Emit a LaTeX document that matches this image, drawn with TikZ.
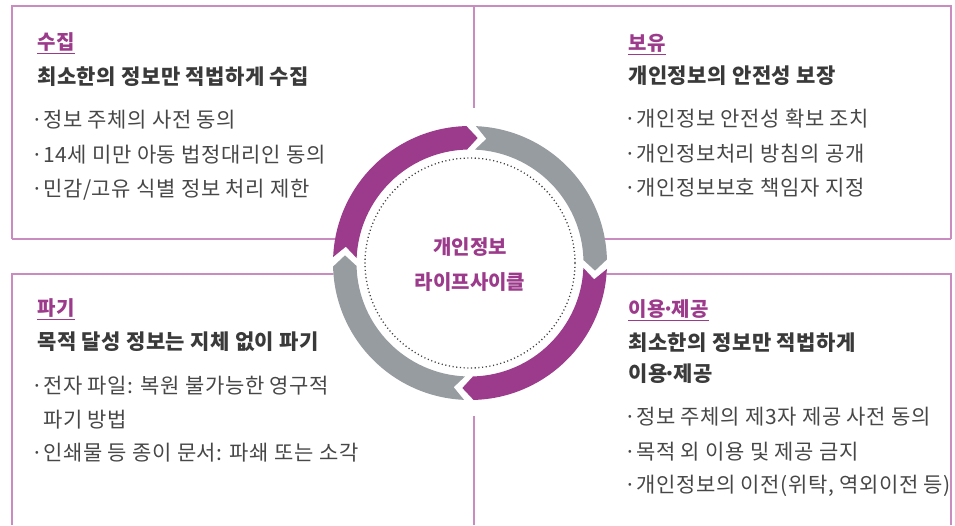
\documentclass[tikz,border=0pt]{standalone}
\usepackage{fontspec}
\setmainfont{Noto Sans CJK KR}
\newfontfamily\itemfont[LetterSpace=3]{Noto Sans CJK KR}
\newfontfamily\subfont[LetterSpace=2.5]{Noto Sans CJK KR}
\definecolor{mag}{HTML}{9C3A8B}
\definecolor{gry}{HTML}{979CA0}
\definecolor{framec}{HTML}{C98BC0}
\definecolor{txtd}{HTML}{3A3A3A}
\definecolor{txtl}{HTML}{474747}
\newcommand\bul{\makebox[12pt][l]{·}}
\newcommand\mdot{\makebox[6pt][c]{·}}
\tikzset{
  framel/.style={draw=framec, line width=1.5pt},
  ttl/.style={anchor=west, inner sep=0pt, text=mag, font=\subfont\bfseries\fontsize{20}{24}\selectfont, text height=17.6pt, text depth=2.4pt},
  sub/.style={anchor=west, inner sep=0pt, text=txtd, font=\subfont\bfseries\fontsize{21}{25}\selectfont, text height=18.5pt, text depth=2.5pt},
  item/.style={anchor=west, inner sep=0pt, text=txtl, font=\itemfont\fontsize{21}{25}\selectfont, text height=18.5pt, text depth=2.5pt},
  ctext/.style={inner sep=0pt, text=mag, font=\bfseries\fontsize{20}{24}\selectfont, text height=17.6pt, text depth=2.4pt},
  uline/.style={draw=mag, line width=1.3pt},
  dotc/.style={draw=black!75, line width=1.3pt, dash pattern=on 1.1pt off 2.6pt}
}
\begin{document}
\begin{tikzpicture}[x=1pt,y=-1pt]
\useasboundingbox (0,0) rectangle (955,525);
% frame lines
\draw[framel] (12,239) -- (12,6) -- (951,6) -- (951,239);
\draw[framel] (12,239) -- (340,239);
\draw[framel] (600,239) -- (951,239);
\draw[framel] (12,525) -- (12,274) -- (340,274);
\draw[framel] (600,274) -- (951,274) -- (951,525);
\draw[framel] (474,6) -- (474,108);
\draw[framel] (474,416) -- (474,525);
% ring
\fill[white] (470,263) circle[radius=137pt];
\begin{scope}[shift={(470,263)}, y=1pt]
  \foreach \T/\c in {177.5/mag, 87.5/gry, -2.5/mag, -92.5/gry}{
    \fill[\c] (\T:137pt) arc[start angle=\T, end angle={\T-86}, radius=137pt]
      -- ({\T-91}:125.25pt) -- ({\T-86}:113.5pt)
      arc[start angle={\T-86}, end angle=\T, radius=113.5pt]
      -- ({\T-5}:125.25pt) -- cycle;
  }
  \draw[dotc] (0,0) circle[radius=105pt];
\end{scope}
\node[ctext] (c1) at (470,247) {개인정보};
\node[ctext] (c2) at (470,282) {라이프사이클};
% top-left
\node[ttl] (t1) at (37,42) {수집};
\draw[uline] ([yshift=-1pt]t1.south west) -- ([yshift=-1pt]t1.south east);
\node[sub] (s1) at (37,76) {최소한의 정보만 적법하게 수집};
\node[item] (a1) at (31,119) {\bul 정보 주체의 사전 동의};
\node[item] (a2) at (31,154) {\bul 14세 미만 아동 법정대리인 동의};
\node[item] (a3) at (31,188) {\bul 민감/고유 식별 정보 처리 제한};
% top-right
\node[ttl] (t2) at (628,43) {보유};
\draw[uline] ([yshift=-1pt]t2.south west) -- ([yshift=-1pt]t2.south east);
\node[sub] (s2) at (628,75.5) {개인정보의 안전성 보장};
\node[item] (b1) at (624,118) {\bul 개인정보 안전성 확보 조치};
\node[item] (b2) at (624,153) {\bul 개인정보처리 방침의 공개};
\node[item] (b3) at (624,187.5) {\bul 개인정보보호 책임자 지정};
% bottom-left
\node[ttl] (t3) at (37,308) {파기};
\draw[uline] ([yshift=-1pt]t3.south west) -- ([yshift=-1pt]t3.south east);
\node[sub] (s3) at (37,341) {목적 달성 정보는 지체 없이 파기};
\node[item] (d1) at (31,385) {\bul 전자 파일: 복원 불가능한 영구적};
\node[item] (d2) at (43,419) {파기 방법};
\node[item] (d3) at (31,452) {\bul 인쇄물 등 종이 문서: 파쇄 또는 소각};
% bottom-right
\node[ttl] (t4) at (628,309) {이용\mdot 제공};
\draw[uline] ([yshift=-1pt]t4.south west) -- ([yshift=-1pt]t4.south east);
\node[sub] (s4) at (628,342) {최소한의 정보만 적법하게};
\node[sub] (s5) at (628,373) {이용\mdot 제공};
\node[item] (e1) at (624,416) {\bul 정보 주체의 제3자 제공 사전 동의};
\node[item] (e2) at (624,451) {\bul 목적 외 이용 및 제공 금지};
\node[item] (e3) at (624,484) {\bul 개인정보의 이전(위탁, 역외이전 등)};
\end{tikzpicture}
\end{document}
